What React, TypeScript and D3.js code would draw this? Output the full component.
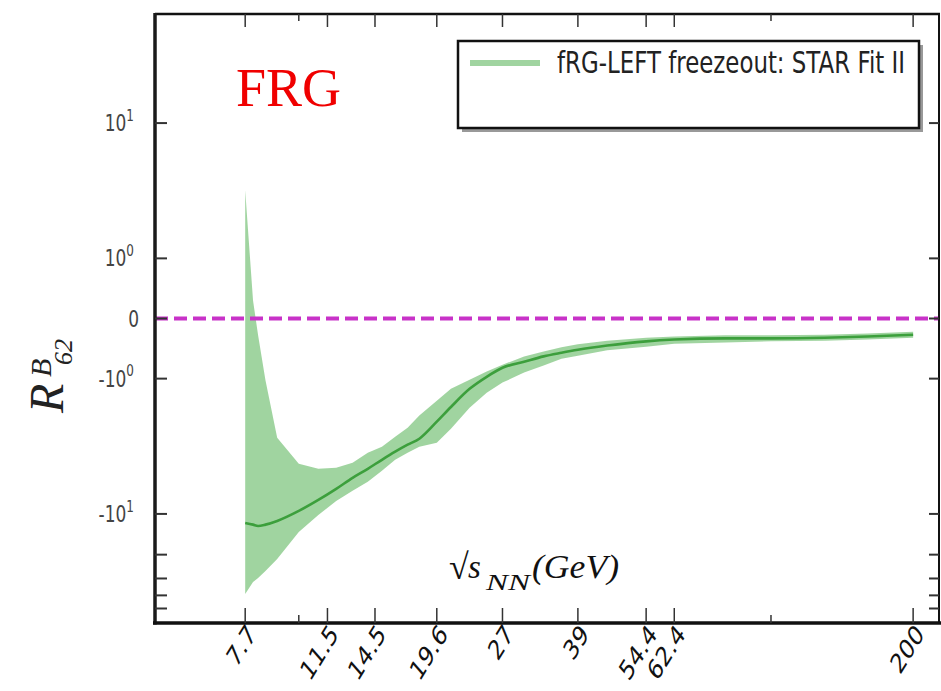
import React from "react";
import * as d3 from "d3";

// sqrt(s_NN) in GeV
const energies = [7.7, 8.0, 8.2, 8.5, 9, 10, 11, 12, 13, 14, 15, 16, 17, 18, 19.6, 21, 23, 25, 27, 30, 33, 36, 39, 45, 54.4, 62.4, 80, 100, 130, 160, 200];
// central fRG curve
const central = [-11.66, -12.0, -12.27, -12.0, -11.27, -9.5, -7.88, -6.53, -5.41, -4.64, -3.98, -3.47, -3.08, -2.78, -2.08, -1.62, -1.19, -0.97, -0.82, -0.72, -0.63, -0.57, -0.52, -0.45, -0.38, -0.35, -0.33, -0.33, -0.32, -0.3, -0.27];
// error band
const upper = [3.19, 0.3, -0.28, -1.03, -2.74, -4.26, -4.64, -4.56, -4.19, -3.53, -3.19, -2.69, -2.31, -1.87, -1.46, -1.19, -1.02, -0.88, -0.77, -0.63, -0.55, -0.48, -0.43, -0.37, -0.32, -0.3, -0.28, -0.28, -0.27, -0.25, -0.22];
const lower = [-39.1, -31.9, -29.8, -26.4, -21.5, -13.6, -10.2, -8.01, -6.75, -5.79, -4.8, -3.98, -3.53, -3.19, -2.98, -2.35, -1.64, -1.27, -1.07, -0.9, -0.78, -0.67, -0.62, -0.53, -0.47, -0.42, -0.4, -0.38, -0.37, -0.35, -0.32];

const xTickValues = [7.7, 11.5, 14.5, 19.6, 27, 39, 54.4, 62.4, 200];
const xTickLabels = ["7.7", "11.5", "14.5", "19.6", "27", "39", "54.4", "62.4", "200"];
const xMinorTicks = [10, 100];
const yTickValues = [10, 1, 0, -1, -10];
const yTickLabels = [
  { base: "10", exp: "1" },
  { base: "10", exp: "0" },
  { base: "0", exp: "" },
  { base: "-10", exp: "0" },
  { base: "-10", exp: "1" },
];
const yMinorTicks = [-20, -30, -40, -50];

const legendLabel = "fRG-LEFT freezeout: STAR Fit II";

const W = 941;
const H = 691;
const left = 155, right = 939, top = 14, bottom = 623;

// symmetric log transform, linthresh = 1
const LIN = 0.4444;
const symT = (v: number) => (Math.abs(v) <= 1 ? v * LIN : Math.sign(v) * (LIN + Math.log10(Math.abs(v))));

const x = d3.scaleLog().domain([4.96, 228]).range([left, 940]);
const yLin = d3.scaleLinear().domain([symT(-64), symT(64)]).range([bottom, top]);
const y = (v: number) => yLin(symT(v));

const STRETCH = 1.3;

export default function App() {
  const pts = energies.map((e, i) => ({ e, c: central[i], lo: lower[i], hi: upper[i] }));
  const area = d3
    .area<any>()
    .x((d) => x(d.e))
    .y0((d) => y(d.lo))
    .y1((d) => y(d.hi));
  const line = d3
    .line<any>()
    .x((d) => x(d.e))
    .y((d) => y(d.c))
    .curve(d3.curveMonotoneX);

  const tickFont = "'DejaVu Sans', sans-serif";
  const serif = "'Liberation Serif', 'DejaVu Serif', serif";

  return (
    <svg width={W} height={H} style={{ position: "absolute", left: 0, top: 0, background: "#fff" }}>
      {/* band + line */}
      <path d={area(pts) || ""} fill="#2ca02c" fillOpacity={0.45} stroke="none" />
      <path d={line(pts) || ""} fill="none" stroke="#3c9f3c" strokeWidth={2.6} />

      {/* zero line */}
      <line x1={left} x2={right} y1={y(0)} y2={y(0)} stroke="#c832c8" strokeWidth={4} strokeDasharray="13,6" />

      {/* spines */}
      <line x1={left} x2={right + 1} y1={top} y2={top} stroke="#111" strokeWidth={2.5} />
      <line x1={right} x2={right} y1={top} y2={bottom} stroke="#111" strokeWidth={2} />
      <line x1={left} x2={left} y1={top - 1} y2={bottom + 1.5} stroke="#1a1a1a" strokeWidth={3.5} />
      <line x1={left - 2} x2={W} y1={bottom} y2={bottom} stroke="#111" strokeWidth={3.5} />

      {/* x ticks */}
      {xTickValues.map((v) => (
        <g key={"xt" + v} stroke="#333" strokeWidth={1.5}>
          <line x1={x(v)} x2={x(v)} y1={bottom} y2={bottom - 15} />
          <line x1={x(v)} x2={x(v)} y1={top} y2={top + 13} />
        </g>
      ))}
      {xMinorTicks.map((v) => (
        <g key={"xm" + v} stroke="#333" strokeWidth={1.5}>
          <line x1={x(v)} x2={x(v)} y1={bottom} y2={bottom - 8} />
          <line x1={x(v)} x2={x(v)} y1={top} y2={top + 7} />
        </g>
      ))}
      {xTickValues.map((v, i) => (
        <text
          key={"xl" + v}
          transform={`translate(${x(v) + 12},${bottom + 12}) scale(1,1.35) rotate(-50)`}
          textAnchor="end"
          fontFamily={tickFont}
          fontSize={20.5}
          fill="#111"
        >
          {xTickLabels[i]}
        </text>
      ))}

      {/* y ticks */}
      {[...yTickValues, ...yMinorTicks].map((v) => (
        <g key={"yt" + v} stroke="#333" strokeWidth={2}>
          <line x1={left} x2={left + 12} y1={y(v)} y2={y(v)} />
          <line x1={right - 10} x2={right} y1={y(v)} y2={y(v)} />
        </g>
      ))}
      {yTickValues.map((v, i) => {
        const lab = yTickLabels[i];
        const isZero = lab.exp === "";
        return (
          <text
            key={"yl" + v}
            transform={`translate(${isZero ? 139 : 134},${y(v) + 8}) scale(1,${STRETCH})`}
            textAnchor="end"
            fontFamily={tickFont}
            fontSize={17}
            fill="#444"
          >
            {lab.base}
            {!isZero && (
              <tspan fontSize={12} dy={-8}>
                {lab.exp}
              </tspan>
            )}
          </text>
        );
      })}

      {/* FRG tag */}
      <text x={236} y={106} fontFamily={serif} fontSize={54} fill="#f00000">
        FRG
      </text>

      {/* legend */}
      <rect x={462} y={45} width={461} height={87} fill="#999" />
      <rect x={458} y={41} width={461} height={87} fill="#fff" stroke="#111" strokeWidth={2.5} />
      <line x1={470} x2={540} y1={63} y2={63} stroke="#2ca02c" strokeOpacity={0.45} strokeWidth={6} />
      <text
        transform={`translate(557,73) scale(1,${STRETCH})`}
        fontFamily={tickFont}
        fontSize={22.5}
        fill="#222"
        textLength={348}
        lengthAdjust="spacingAndGlyphs"
      >
        {legendLabel}
      </text>

      {/* y axis label */}
      <g transform="translate(63,413) rotate(-90)" fontFamily={serif} fontStyle="italic" fill="#222">
        <text x={0} y={0} fontSize={48}>R</text>
        <text x={36} y={-12} fontSize={30}>B</text>
        <text x={48} y={9} fontSize={26}>62</text>
      </g>

      {/* x axis label */}
      <g fontFamily={serif} fill="#111">
        <text x={449} y={579} fontSize={36}>√</text>
        <text x={468} y={578} fontSize={33} fontStyle="italic">s</text>
        <text x={486} y={590} fontSize={23} fontStyle="italic" textLength={44} lengthAdjust="spacingAndGlyphs">NN</text>
        <text x={532} y={578} fontSize={33} fontStyle="italic" textLength={87} lengthAdjust="spacingAndGlyphs">
          (GeV)
        </text>
      </g>
    </svg>
  );
}
